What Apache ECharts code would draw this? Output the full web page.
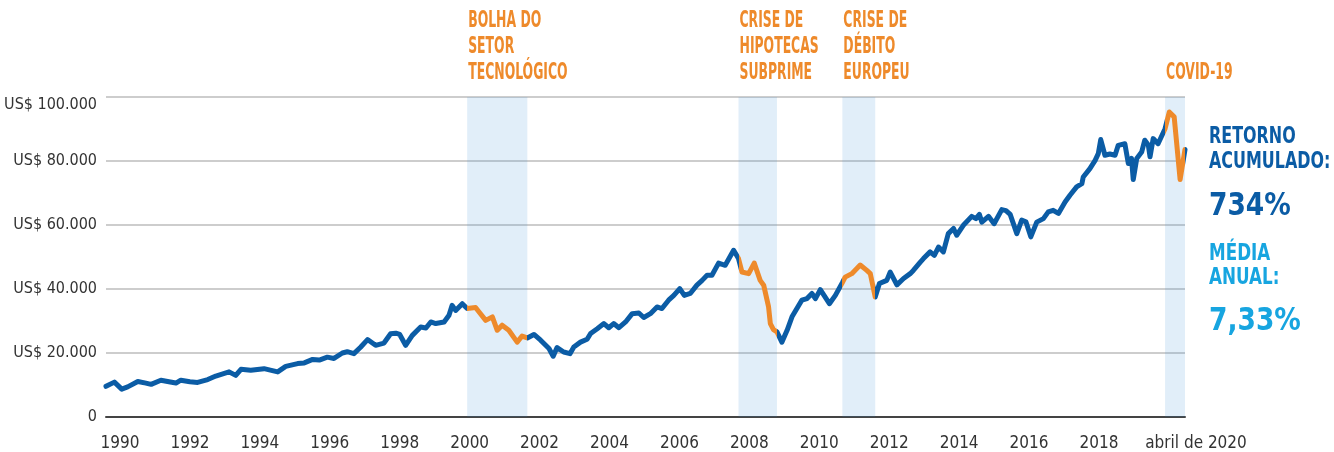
<!DOCTYPE html>
<html>
<head>
<meta charset="utf-8">
<script src="https://cdn.jsdelivr.net/npm/echarts@6/dist/echarts.min.js"></script>
<style>
  html, body { margin: 0; background: #fff; }
  #chart { width: 1334px; height: 452px; }
</style>
</head>
<body>
<div id="chart"></div>
<script>
// serie mensal aproximada (ano decimal, valor em US$)
const years = [
  1989.60, 1989.84, 1990.05, 1990.22, 1990.51, 1990.74, 1990.89, 1991.17, 1991.40, 1991.60,
  1991.74, 1992.00, 1992.22, 1992.51, 1992.74, 1993.12, 1993.31, 1993.46, 1993.74, 1994.12,
  1994.51, 1994.74, 1995.08, 1995.27, 1995.51, 1995.70, 1995.93, 1996.12, 1996.36, 1996.50,
  1996.69, 1996.88, 1997.08, 1997.31, 1997.55, 1997.74, 1997.89, 1998.00, 1998.17, 1998.36,
  1998.60, 1998.75, 1998.89, 1999.03, 1999.27, 1999.41, 1999.50, 1999.60, 1999.79, 1999.93,
  2000.17, 2000.27, 2000.46, 2000.65, 2000.79, 2000.93, 2001.12, 2001.36, 2001.50, 2001.65,
  2001.84, 2002.03, 2002.27, 2002.39, 2002.50, 2002.69, 2002.87, 2002.98, 2003.17, 2003.36,
  2003.46, 2003.65, 2003.84, 2003.98, 2004.12, 2004.27, 2004.46, 2004.65, 2004.84, 2004.98,
  2005.17, 2005.36, 2005.50, 2005.69, 2005.84, 2006.01, 2006.14, 2006.31, 2006.50, 2006.65,
  2006.79, 2006.93, 2007.12, 2007.31, 2007.55, 2007.69, 2007.79, 2007.98, 2008.14, 2008.31,
  2008.41, 2008.55, 2008.60, 2008.69, 2008.79, 2008.93, 2009.08, 2009.22, 2009.50, 2009.65,
  2009.79, 2009.89, 2010.03, 2010.29, 2010.46, 2010.66, 2010.74, 2010.93, 2011.17, 2011.36,
  2011.46, 2011.60, 2011.72, 2011.93, 2012.03, 2012.22, 2012.41, 2012.60, 2012.69, 2012.89,
  2012.98, 2013.17, 2013.29, 2013.41, 2013.55, 2013.69, 2013.84, 2013.93, 2014.12, 2014.36,
  2014.48, 2014.58, 2014.65, 2014.84, 2015.00, 2015.22, 2015.34, 2015.46, 2015.65, 2015.79,
  2015.91, 2016.05, 2016.22, 2016.41, 2016.55, 2016.69, 2016.84, 2017.03, 2017.17, 2017.36,
  2017.51, 2017.55, 2017.74, 2017.89, 2017.98, 2018.05, 2018.17, 2018.31, 2018.46, 2018.55,
  2018.74, 2018.84, 2018.93, 2018.98, 2019.08, 2019.22, 2019.31, 2019.41, 2019.46, 2019.55,
  2019.69, 2019.89, 2020.01, 2020.15, 2020.32, 2020.46
];
const values = [
  9600, 10900, 8700, 9400, 11100, 10600, 10200, 11500, 11000, 10600,
  11500, 11000, 10800, 11700, 12800, 14100, 13000, 14900, 14600, 15100,
  14100, 15800, 16700, 16900, 18000, 17800, 18700, 18300, 20000, 20400,
  19800, 21800, 24200, 22400, 23100, 26000, 26200, 25800, 22400, 25500,
  28100, 27800, 29700, 29200, 29700, 31800, 34900, 33300, 35400, 33900,
  34200, 32800, 30200, 31300, 27100, 28700, 27100, 23400, 25300, 24700,
  25800, 24000, 21400, 19000, 21700, 20300, 19800, 21900, 23400, 24300,
  26100, 27600, 29200, 27900, 29200, 27900, 29700, 32300, 32500, 31100,
  32300, 34400, 33900, 36500, 38000, 40100, 38000, 38600, 41200, 42700,
  44300, 44300, 48100, 47400, 52100, 49500, 45300, 44800, 48100, 42700,
  41200, 34400, 29200, 27300, 26600, 23400, 27100, 31300, 36500, 37000,
  38600, 37000, 39800, 35400, 38000, 42000, 43700, 44800, 47500, 45800,
  44800, 37500, 41700, 42700, 45300, 41300, 43300, 44800, 45800, 48400,
  49500, 51600, 50500, 53100, 51600, 57300, 58900, 56800, 59900, 62700,
  62000, 63300, 60900, 62700, 60400, 64800, 64500, 63300, 57300, 61500,
  61000, 56300, 60900, 62000, 64100, 64600, 63600, 67200, 69300, 71900,
  72900, 75000, 77600, 80200, 82300, 86700, 81800, 82200, 81800, 84900,
  85400, 79200, 80800, 74200, 80800, 82800, 86500, 85000, 81300, 87000,
  85400, 90100, 95300, 93800, 74200, 83600
];

const tickYears = [1990, 1992, 1994, 1996, 1998, 2000, 2002, 2004, 2006, 2008, 2010, 2012, 2014, 2016, 2018];
const lastYear = 2020.46;
const lastLabel = 'abril de 2020';

const crisisNames = ['BOLHA DO\nSETOR\nTECNOLÓGICO', 'CRISE DE\nHIPOTECAS\nSUBPRIME', 'CRISE DE\nDÉBITO\nEUROPEU', 'COVID-19'];
const crisisStart = [1999.93, 2007.69, 2010.66, 2019.89];
const crisisEnd = [2001.65, 2008.79, 2011.60, 2020.46];

const font = '"Liberation Sans Narrow", "DejaVu Sans Condensed", Roboto, sans-serif';
const BLUE = '#0b5ca5';
const ORANGE = '#ee8a2b';
const LIGHT = '#17a5e0';

const chart = echarts.init(document.getElementById('chart'));

chart.setOption({
  animation: false,
  grid: { left: 106, right: 149, top: 97, bottom: 35, outerBoundsMode: 'none' },
  xAxis: {
    type: 'value',
    min: 1989.6,
    max: lastYear,
    splitLine: { show: false },
    axisTick: { show: false },
    axisLine: { lineStyle: { color: '#444', width: 2 } },
    axisLabel: {
      customValues: tickYears.concat([lastYear]),
      margin: 18,
      color: '#333',
      fontFamily: font,
      fontSize: 17,
      formatter: v => (v > 2019 ? '{a|' + lastLabel + '}' : String(v)),
      rich: {
        a: { fontFamily: font, fontSize: 17, color: '#333', padding: [0, 0, 0, 22] }
      }
    }
  },
  yAxis: {
    type: 'value',
    min: 0,
    max: 100000,
    interval: 20000,
    axisLine: { show: false },
    axisTick: { show: false },
    splitLine: { lineStyle: { color: '#bdbdbd', width: 1.5 } },
    axisLabel: {
      margin: 9,
      color: '#333',
      fontFamily: font,
      fontSize: 16,
      formatter: v => {
        if (v === 0) return '0';
        const s = 'US$ ' + v / 1000 + '.000';
        return v === 100000 ? '{t|' + s + '}' : s;
      },
      rich: {
        t: { fontFamily: font, fontSize: 16, color: '#333', padding: [16, 0, 0, 0] }
      }
    }
  },
  visualMap: {
    show: false,
    type: 'piecewise',
    dimension: 0,
    seriesIndex: 0,
    pieces: crisisStart.map((s, i) => ({ gte: s, lte: crisisEnd[i], color: ORANGE })),
    outOfRange: { color: BLUE }
  },
  series: [
    {
      type: 'line',
      data: years.map((y, i) => [y, values[i]]),
      showSymbol: false,
      lineStyle: { width: 5, join: 'round', cap: 'round' },
      z: 3,
      markArea: {
        silent: true,
        itemStyle: { color: 'rgba(55,142,215,0.15)' },
        data: crisisStart.map((s, i) => [{ xAxis: s }, { xAxis: crisisEnd[i] }])
      }
    }
  ]
});

// textos de anotacao, posicionados a partir do eixo
const graphics = crisisNames.map((name, i) => ({
  type: 'text',
  x: chart.convertToPixel({ xAxisIndex: 0 }, crisisStart[i]) + 1,
  y: 86,
  scaleX: 0.6,
  style: {
    text: name,
    fill: ORANGE,
    font: 'bold 23px ' + font,
    lineHeight: 26,
    verticalAlign: 'bottom'
  }
}));

const rightX = chart.convertToPixel({ xAxisIndex: 0 }, lastYear) + 24;
graphics.push(
  {
    type: 'text', x: rightX, y: 124, scaleX: 0.77,
    style: { text: 'RETORNO\nACUMULADO:', fill: BLUE, font: 'bold 23px ' + font, lineHeight: 25.5, verticalAlign: 'top' }
  },
  {
    type: 'text', x: rightX, y: 188, scaleX: 0.92,
    style: { text: '734%', fill: BLUE, font: 'bold 32px ' + font, lineHeight: 38, verticalAlign: 'top' }
  },
  {
    type: 'text', x: rightX, y: 242, scaleX: 0.81,
    style: { text: 'MÉDIA\nANUAL:', fill: LIGHT, font: 'bold 23px ' + font, lineHeight: 24, verticalAlign: 'top' }
  },
  {
    type: 'text', x: rightX, y: 303, scaleX: 0.92,
    style: { text: '7,33%', fill: LIGHT, font: 'bold 32px ' + font, lineHeight: 38, verticalAlign: 'top' }
  }
);

chart.setOption({ graphic: graphics });
</script>
</body>
</html>
